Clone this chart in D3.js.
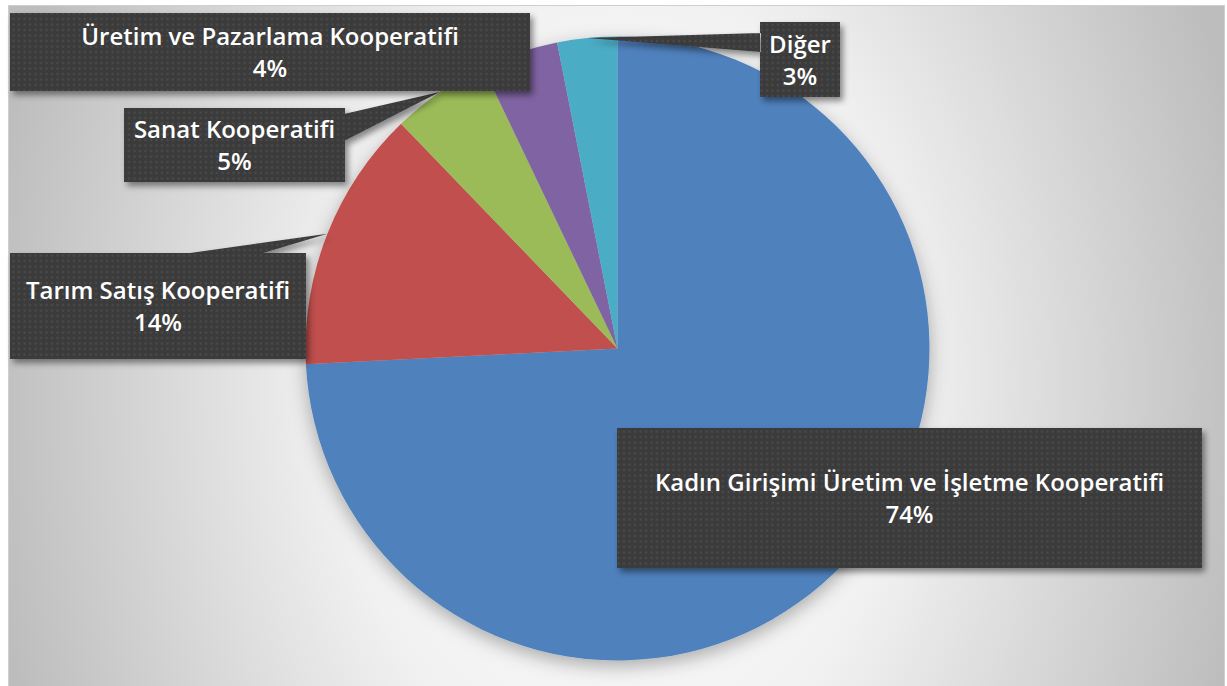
<!DOCTYPE html>
<meta charset="utf-8">
<style>
body { margin: 0; background: #fff; }
.label text {
  font-family: "Open Sans", "Lato", sans-serif;
  font-weight: 600;
  font-size: 24px;
  fill: #fff;
  text-anchor: middle;
}
</style>
<svg width="1227" height="686"></svg>
<script src="https://d3js.org/d3.v7.min.js"></script>
<script>

var categories = ["Kadın Girişimi Üretim ve İşletme Kooperatifi", "Tarım Satış Kooperatifi",
                  "Sanat Kooperatifi", "Üretim ve Pazarlama Kooperatifi", "Diğer"];
var values = [74.2, 13.6, 5.1, 4.0, 3.1];
var colors = ["#4f81bd", "#c0504d", "#9bbb59", "#8064a2", "#4bacc6"];

// label boxes (x, y, w, h) and where the callout leaves the box
var boxes = [
  {x: 617, y: 428, w: 585, h: 140, base: null},
  {x: 10,  y: 253, w: 296, h: 106, base: [[183, 254], [260, 254]]},
  {x: 124, y: 108, w: 221, h: 74,  base: [[344, 114], [344, 141]]},
  {x: 10,  y: 13,  w: 520, h: 78,  base: null},
  {x: 760, y: 22,  w: 80,  h: 75,  base: [[761, 33], [761, 52]]}
];

var svg = d3.select("svg"),
    width = +svg.attr("width"),
    height = +svg.attr("height");

var cx = 617.5, cy = 348.5, radius = 312;

var defs = svg.append("defs");

var bg = defs.append("radialGradient")
    .attr("id", "bg")
    .attr("gradientUnits", "userSpaceOnUse")
    .attr("cx", 620).attr("cy", 380).attr("r", 640)
    .attr("gradientTransform", "translate(620,380) scale(1,1.4) translate(-620,-380)");
bg.append("stop").attr("offset", 0).attr("stop-color", "#ffffff");
bg.append("stop").attr("offset", 0.45).attr("stop-color", "#f1f1f1");
bg.append("stop").attr("offset", 1).attr("stop-color", "#bdbdbd");

var dots = defs.append("pattern")
    .attr("id", "dots")
    .attr("patternUnits", "userSpaceOnUse")
    .attr("width", 5.5).attr("height", 5.5);
dots.append("rect").attr("width", 5.5).attr("height", 5.5).attr("fill", "#3b3b3b");
dots.append("rect").attr("x", 1.5).attr("y", 1.5).attr("width", 2).attr("height", 2).attr("fill", "#4d4d4d");

var pieShadow = defs.append("filter").attr("id", "pieShadow")
    .attr("x", "-20%").attr("y", "-20%").attr("width", "140%").attr("height", "140%");
pieShadow.append("feDropShadow")
    .attr("dx", 0).attr("dy", 6).attr("stdDeviation", 9)
    .attr("flood-color", "#000").attr("flood-opacity", 0.3);

var boxShadow = defs.append("filter").attr("id", "boxShadow")
    .attr("x", "-10%").attr("y", "-10%").attr("width", "120%").attr("height", "130%");
boxShadow.append("feDropShadow")
    .attr("dx", 3).attr("dy", 4).attr("stdDeviation", 3)
    .attr("flood-color", "#000").attr("flood-opacity", 0.45);

// chart area
svg.append("rect")
    .attr("x", 8.5).attr("y", 5.5)
    .attr("width", 1216).attr("height", 690)
    .attr("fill", "url(#bg)")
    .attr("stroke", "#cfcfcf");

var pie = d3.pie().sort(null).value(function(d) { return d; });
var arcs = pie(values);

var arc = d3.arc().innerRadius(0).outerRadius(radius);
var edge = d3.arc().innerRadius(radius).outerRadius(radius);

svg.append("g")
    .attr("transform", "translate(" + cx + "," + cy + ")")
    .attr("filter", "url(#pieShadow)")
  .selectAll("path")
  .data(arcs)
  .enter().append("path")
    .attr("d", arc)
    .attr("fill", function(d, i) { return colors[i]; });

var total = d3.sum(values);

var label = svg.append("g")
  .selectAll("g")
  .data(arcs)
  .enter().append("g")
    .attr("class", "label");

label.append("path")
    .attr("filter", "url(#boxShadow)")
    .attr("fill", "url(#dots)")
    .attr("d", function(d, i) {
      var b = boxes[i];
      var p = d3.path();
      p.rect(b.x, b.y, b.w, b.h);
      if (b.base) {
        var t = edge.centroid(d);
        p.moveTo(b.base[0][0], b.base[0][1]);
        p.lineTo(cx + t[0], cy + t[1]);
        p.lineTo(b.base[1][0], b.base[1][1]);
        p.closePath();
      }
      return p.toString();
    });

label.append("text")
    .attr("x", function(d, i) { return boxes[i].x + boxes[i].w / 2; })
    .attr("y", function(d, i) { return boxes[i].y + boxes[i].h / 2 - 7; })
    .text(function(d, i) { return categories[i]; });

label.append("text")
    .attr("x", function(d, i) { return boxes[i].x + boxes[i].w / 2; })
    .attr("y", function(d, i) { return boxes[i].y + boxes[i].h / 2 + 25; })
    .text(function(d) { return Math.round(d.value / total * 100) + "%"; });

</script>
